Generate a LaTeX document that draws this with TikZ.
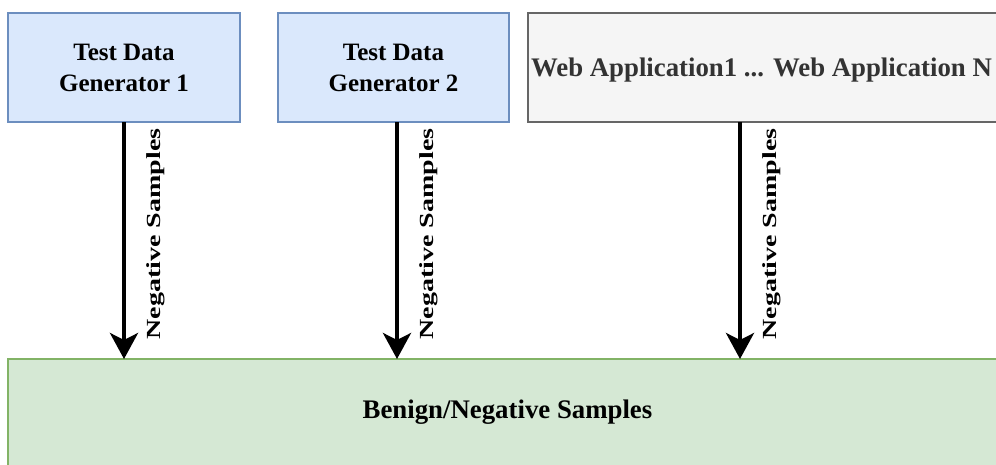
\documentclass[tikz,border=0pt]{standalone}
\usepackage{fontspec}
\setmainfont{Liberation Serif}
\usetikzlibrary{arrows.meta}
\definecolor{blueFill}{HTML}{DAE8FC}
\definecolor{blueLine}{HTML}{6C8EBF}
\definecolor{grayFill}{HTML}{F5F5F5}
\definecolor{grayLine}{HTML}{666666}
\definecolor{grayText}{HTML}{333333}
\definecolor{greenFill}{HTML}{D5E8D4}
\definecolor{greenLine}{HTML}{82B366}
\tikzset{
  genbox/.style={draw=blueLine, fill=blueFill, line width=1.3pt},
  appbox/.style={draw=grayLine, fill=grayFill, line width=1.3pt},
  sinkbox/.style={draw=greenLine, fill=greenFill, line width=1.3pt},
  boxtext/.style={font=\fontsize{25}{31}\selectfont\bfseries, align=center, inner sep=0pt},
  widetext/.style={font=\fontsize{26.8}{31}\selectfont\bfseries, inner sep=0pt},
  flow/.style={line width=4pt, -{Stealth[length=26pt, width=28pt, inset=7pt]}},
  flowlabel/.style={rotate=90, inner sep=0pt, font=\fontsize{20}{22}\selectfont\bfseries}
}
\newcommand{\stretchlabel}[1]{\scalebox{1.4}[1]{#1}}
\begin{document}
\begin{tikzpicture}[x=1pt, y=-1pt]
  \useasboundingbox (0,0) rectangle (996,464);
  \clip (0,0) rectangle (996,464);

  % source boxes
  \draw[genbox] (8,13) rectangle (240,122);
  \node[boxtext] (gen1) at (124,67.5) {Test Data\\Generator 1};
  \draw[genbox] (278,13) rectangle (509,122);
  \node[boxtext] (gen2) at (393.5,67.5) {Test Data\\Generator 2};
  \draw[appbox] (528,13) rectangle (1000,122);
  \node[widetext, text=grayText] (apps) at (761.5,70) {Web Application1 ... Web Application N};

  % sink box
  \draw[sinkbox] (8,359) rectangle (1004,470);
  \node[widetext] (sink) at (507.5,412) {Benign/Negative Samples};

  % anchor points on box edges
  \coordinate (g1b) at (124,122);
  \coordinate (g2b) at (397,122);
  \coordinate (apb) at (740,122);
  \coordinate (s1) at (124,359);
  \coordinate (s2) at (397,359);
  \coordinate (s3) at (740,359);

  % flows with labels
  \draw[flow] (g1b) -- (s1);
  \draw[flow] (g2b) -- (s2);
  \draw[flow] (apb) -- (s3);
  \node[flowlabel] (l1) at (156,234) {\stretchlabel{Negative Samples}};
  \node[flowlabel] (l2) at (429,234) {\stretchlabel{Negative Samples}};
  \node[flowlabel] (l3) at (772,234) {\stretchlabel{Negative Samples}};
\end{tikzpicture}
\end{document}
